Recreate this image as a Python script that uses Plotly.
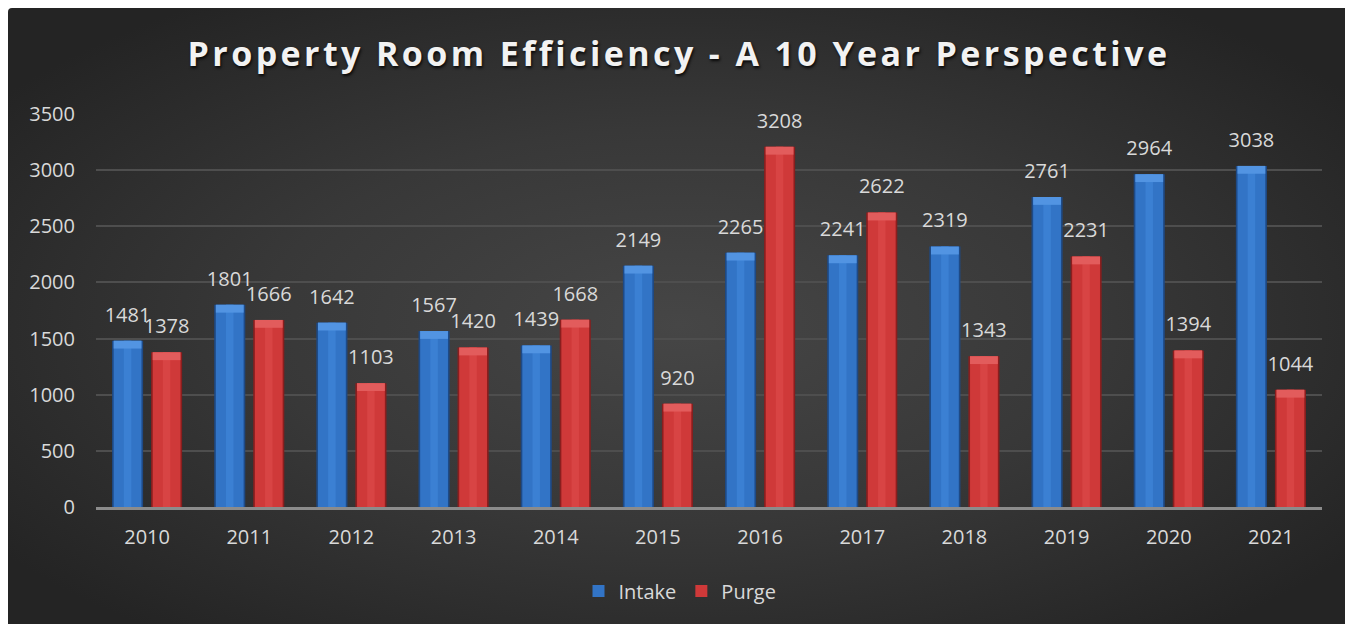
import base64
import plotly.graph_objects as go

# ---------------- data ----------------
years = ["2010", "2011", "2012", "2013", "2014", "2015",
         "2016", "2017", "2018", "2019", "2020", "2021"]
intake = [1481, 1801, 1642, 1567, 1439, 2149, 2265, 2241, 2319, 2761, 2964, 3038]
purge = [1378, 1666, 1103, 1420, 1668, 920, 3208, 2622, 1343, 2231, 1394, 1044]
y_ticks = [0, 500, 1000, 1500, 2000, 2500, 3000, 3500]
title_text = "Property Room Efficiency - A 10 Year Perspective"

# ---------------- style ----------------
W, H = 1353, 624
PANEL_W = 1342
BAR_W = 0.304
GAP = 0.078
CAP = 70          # height of lighter top bevel, in data units
FONT = "Open Sans"
TXT = "#d9d9d9"

idx = list(range(len(years)))

svg = f'''<svg xmlns="http://www.w3.org/2000/svg" width="{W}" height="{H}" viewBox="0 0 {W} {H}" preserveAspectRatio="none">
<defs><radialGradient id="g" cx="0.5" cy="0.5" r="0.62">
<stop offset="0" stop-color="#464646"/><stop offset="0.5" stop-color="#383838"/><stop offset="1" stop-color="#242424"/>
</radialGradient></defs>
<rect width="{W}" height="{H}" fill="#ffffff"/>
<rect x="0" y="0" width="{PANEL_W}" height="{H+10}" rx="4" ry="4" fill="url(#g)"/>
</svg>'''
bg_uri = "data:image/svg+xml;base64," + base64.b64encode(svg.encode()).decode()

fig = go.Figure()

series = [
    ("Intake", intake, -(BAR_W + GAP / 2),
     dict(edge="#1e4a86", body="#3274c6", hi="#3b80d3", cap="#5294e2")),
    ("Purge", purge, GAP / 2,
     dict(edge="#8a1e1e", body="#cf3939", hi="#d84444", cap="#e25c5c")),
]

inset = 0.016
for name, vals, off, c in series:
    fig.add_trace(go.Bar(x=idx, y=vals, offset=off, width=BAR_W,
                         marker=dict(color=c["edge"], line=dict(width=0)),
                         showlegend=False, hoverinfo="skip"))
    fig.add_trace(go.Bar(x=idx, y=vals, offset=off + inset, width=BAR_W - 2 * inset,
                         name=name, marker=dict(color=c["body"], line=dict(width=0)),
                         showlegend=True, hoverinfo="skip"))
    fig.add_trace(go.Bar(x=idx, y=vals, offset=off + BAR_W * 0.38, width=BAR_W * 0.24,
                         marker=dict(color=c["hi"], line=dict(width=0)),
                         showlegend=False, hoverinfo="skip"))
    fig.add_trace(go.Bar(x=idx, y=[CAP] * len(vals), base=[v - CAP for v in vals],
                         offset=off + inset, width=BAR_W - 2 * inset,
                         marker=dict(color=c["cap"], line=dict(width=0)),
                         showlegend=False, hoverinfo="skip"))

for name, vals, off, c in series:
    fig.add_trace(go.Scatter(
        x=[i + off + BAR_W / 2 for i in idx], y=vals,
        mode="markers+text", text=[str(v) for v in vals],
        textposition="top center",
        textfont=dict(family=FONT, size=20, color=TXT),
        marker=dict(size=21, color="rgba(0,0,0,0)"),
        cliponaxis=False, showlegend=False, hoverinfo="skip"))

# page coords are figure coords + 8 px (browser body margin)
fig.update_layout(
    width=W, height=H,
    margin=dict(l=0, r=0, t=0, b=0),
    paper_bgcolor="#ffffff",
    plot_bgcolor="rgba(0,0,0,0)",
    barmode="overlay",
    images=[dict(source=bg_uri, xref="paper", yref="paper", x=0, y=1,
                 sizex=1, sizey=1, sizing="stretch", xanchor="left",
                 yanchor="top", layer="below")],
    title=dict(text=f'<span style="letter-spacing:3.4px">{title_text}</span>',
               x=671 / W, xanchor="center", y=1 - 46 / H, yanchor="middle",
               yref="container", xref="container",
               font=dict(family=FONT, size=34, color="#f2f2f2", weight="bold",
                         shadow="1px 2px 3px rgba(0,0,0,0.85)")),
    xaxis=dict(domain=[88 / W, 1314 / W], range=[-0.5, len(years) - 0.5],
               automargin=False,
               tickvals=idx, ticktext=years, showgrid=False, zeroline=False,
               showline=True, linecolor="#8c8c8c", linewidth=2.5,
               ticks="", ticklabelstandoff=10,
               tickfont=dict(family=FONT, size=20, color=TXT)),
    yaxis=dict(domain=[125 / H, 518 / H], range=[0, 3500], automargin=False,
               tickvals=y_ticks, showgrid=True, gridcolor="#4e4e4e", gridwidth=1.5,
               zeroline=False, showline=False, ticks="", ticklabelstandoff=20,
               tickfont=dict(family=FONT, size=20, color=TXT)),
    legend=dict(orientation="h", x=672 / W, xanchor="center", y=1 - 583 / H,
                yanchor="middle", font=dict(family=FONT, size=20, color=TXT),
                bgcolor="rgba(0,0,0,0)", itemwidth=30),
    hovermode=False,
)

fig.write_html("out.html")
